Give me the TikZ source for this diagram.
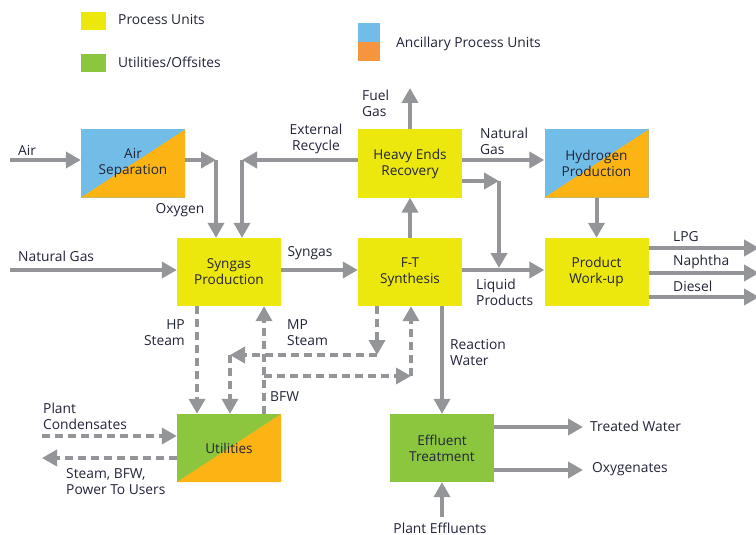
\documentclass[tikz,border=0pt]{standalone}
\usepackage{fontspec}
\setmainfont{Open Sans}
\usetikzlibrary{arrows.meta}
\definecolor{pyellow}{RGB}{236,231,12}
\definecolor{ugreen}{RGB}{140,198,63}
\definecolor{ablue}{RGB}{114,188,232}
\definecolor{aorange}{RGB}{252,180,21}
\definecolor{lorange}{RGB}{247,148,62}
\definecolor{agray}{RGB}{147,149,152}
\definecolor{txt}{RGB}{34,36,56}
\tikzset{
  box/.style={minimum width=104pt, minimum height=68pt, inner sep=0pt, align=center,
    font=\fontsize{13.6}{16}\selectfont, text=txt},
  dual/.style 2 args={fill=#1, path picture={\fill[#2] (path picture bounding box.south west) -- (path picture bounding box.north east) -- (path picture bounding box.south east) -- cycle;}},
  lab/.style={font=\fontsize{13.8}{16}\selectfont, text=txt, inner sep=0pt},
  legsq/.style={minimum width=25pt, minimum height=18pt, inner sep=0pt},
  arr/.style={draw=agray, line width=4pt, -{Triangle[length=15pt,width=16pt]}, agray},
  darr/.style={arr, line width=3.5pt, dash pattern=on 8pt off 5pt}
}
\begin{document}
\begin{tikzpicture}[x=1pt,y=-1pt]
\useasboundingbox[fill=white] (0,0) rectangle (756,535);
% legend
\node[legsq, fill=pyellow] (lp) at (93.5,21) {};
\node[lab, anchor=west] (lpt) at (118,20) {Process Units};
\node[legsq, fill=ugreen] (lu) at (93.5,63) {};
\node[lab, anchor=west] (lut) at (118,62) {Utilities/Offsites};
\node[minimum width=22pt, minimum height=38pt, inner sep=0pt,
  path picture={\fill[ablue] (path picture bounding box.north west) rectangle (path picture bounding box.east);
                \fill[lorange] (path picture bounding box.west) rectangle (path picture bounding box.south east);}] (la) at (369,42) {};
\node[lab, anchor=west] (lat) at (396,44) {Ancillary Process Units};
% boxes
\node[box, dual={ablue}{aorange}] (airsep) at (133,163.5) {Air\\Separation};
\node[box, fill=pyellow] (syngas) at (229,272) {Syngas\\Production};
\node[box, fill=pyellow] (her) at (410,163.5) {Heavy Ends\\Recovery};
\node[box, fill=pyellow] (ft) at (410,272) {F-T\\Synthesis};
\node[box, dual={ablue}{aorange}] (h2) at (596.5,163.5) {Hydrogen\\Production};
\node[box, fill=pyellow] (pwu) at (596.5,272) {Product\\Work-up};
\node[box, dual={ugreen}{aorange}] (util) at (229,448) {Utilities};
\node[box, fill=ugreen] (eff) at (442,448) {Effluent\\Treatment};
% solid connectors
\coordinate (airin) at (10,160);
\draw[arr] (airin) -- (airin -| airsep.west);
\coordinate (ngin) at (10,270);
\draw[arr] (ngin) -- (ngin -| syngas.west);
\coordinate (oxc) at (216,160);
\draw[arr] (oxc -| airsep.east) -- (oxc);
\draw[arr] (oxc) -- (oxc |- syngas.north);
\coordinate (erc) at (242,160);
\draw[arr] (erc -| her.west) -- (erc);
\draw[arr] (erc) -- (erc |- syngas.north);
\coordinate (sg) at (320,270);
\draw[arr] (sg -| syngas.east) -- (sg -| ft.west);
\draw[arr] (ft.north) -- (her.south);
\coordinate (fuel) at (410,88);
\draw[arr] (her.north) -- (fuel);
\coordinate (ngh) at (500,160);
\draw[arr] (ngh -| her.east) -- (ngh -| h2.west);
\coordinate (lqc) at (499,181);
\coordinate (lqe) at (499,268);
\draw[arr] (lqc -| her.east) -- (lqc);
\draw[arr] (lqc) -- (lqe);
\draw[arr] (sg -| ft.east) -- (sg -| pwu.west);
\draw[arr] (h2.south) -- (pwu.north);
\coordinate (lpg) at (759,248);
\coordinate (nap) at (759,273);
\coordinate (die) at (759,297);
\draw[arr] (lpg -| pwu.east) -- (lpg);
\draw[arr] (nap -| pwu.east) -- (nap);
\draw[arr] (die -| pwu.east) -- (die);
\coordinate (rw) at (442,360);
\draw[arr] (rw |- ft.south) -- (rw |- eff.north);
\coordinate (tw) at (583,427);
\coordinate (oxy) at (583,470);
\draw[arr] (tw -| eff.east) -- (tw);
\draw[arr] (oxy -| eff.east) -- (oxy);
\coordinate (pe) at (442,517);
\draw[arr] (pe) -- (pe |- eff.south);
% dashed connectors
\coordinate (hp) at (197,360);
\draw[darr] (hp |- syngas.south) -- (hp |- util.north);
\coordinate (bfw) at (264,376);
\draw[darr] (bfw |- util.north) -- (bfw |- syngas.south);
\coordinate (bfwc) at (411,376);
\draw[darr] (bfw) -- (bfwc);
\draw[darr] (bfwc) -- (bfwc |- ft.south);
\coordinate (mpa) at (377,355);
\coordinate (mpb) at (230,355);
\draw[darr] (mpa |- ft.south) -- (mpa);
\draw[darr] (mpa) -- (mpb);
\draw[darr] (mpb) -- (mpb |- util.north);
\coordinate (pc) at (42,436);
\draw[darr] (pc) -- (pc -| util.west);
\coordinate (sb) at (42,458);
\draw[darr] (sb -| util.west) -- (sb);
% labels
\node[lab, anchor=west] (tair) at (18,150) {Air};
\node[lab, anchor=west] (tng) at (18,256) {Natural Gas};
\node[lab] (tox) at (180,210) {Oxygen};
\node[lab, align=center] (ter) at (316,139) {External\\Recycle};
\node[lab] (tsg) at (310,253) {Syngas};
\node[lab, align=left, anchor=west] (tfg) at (362,103.5) {Fuel\\Gas};
\node[lab, align=left, anchor=west] (tngh) at (480,141.5) {Natural\\Gas};
\node[lab, align=left, anchor=west] (tlp) at (476,292) {Liquid\\Products};
\node[lab, anchor=west] (tlpg) at (673,237) {LPG};
\node[lab, anchor=west] (tnap) at (673,262) {Naphtha};
\node[lab, anchor=west] (tdie) at (673,286) {Diesel};
\node[lab, align=left, anchor=west] (trw) at (450,353) {Reaction\\Water};
\node[lab, anchor=west] (ttw) at (590,426) {Treated Water};
\node[lab, anchor=west] (toxy) at (592,469) {Oxygenates};
\node[lab] (tpe) at (440,528) {Plant Effluents};
\node[lab, align=right, anchor=east] (thp) at (185,333) {HP\\Steam};
\node[lab, align=left, anchor=west] (tmp) at (287,333) {MP\\Steam};
\node[lab, anchor=west] (tbfw) at (270,397) {BFW};
\node[lab, align=left, anchor=west] (tpc) at (43,416.5) {Plant\\Condensates};
\node[lab, align=left, anchor=west] (tsb) at (66,482) {Steam, BFW,\\Power To Users};
\end{tikzpicture}
\end{document}
